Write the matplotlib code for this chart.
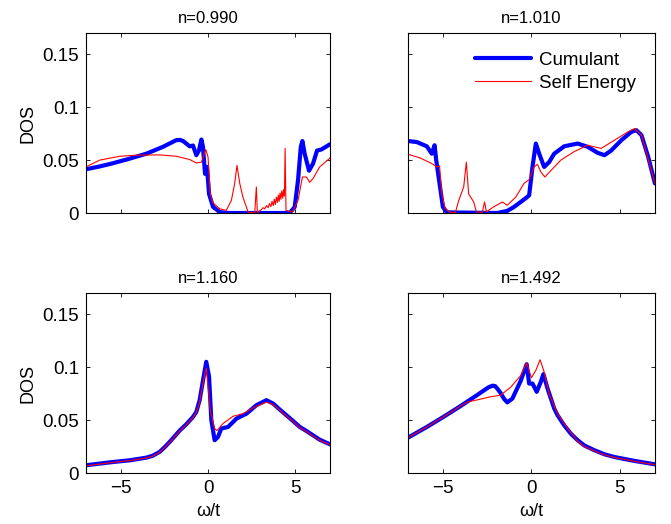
import matplotlib
matplotlib.use('Agg')
import matplotlib.pyplot as plt
import numpy as np

plt.rcParams['font.family'] = ['Liberation Sans', 'DejaVu Sans']
plt.rcParams['font.size'] = 13

titles = ['n=0.990', 'n=1.010', 'n=1.160', 'n=1.492']

# panel 1 (n=0.990)
w_cum1 = [-7.0, -6.2, -5.45, -4.5, -3.54, -2.58, -2.1, -1.82, -1.6, -1.43, -1.05, -0.86, -0.67, -0.52, -0.38, -0.29,
          -0.17, -0.06, 0.06, 0.29, 0.67, 1.05, 4.68, 4.97, 5.16, 5.32, 5.41, 5.54, 5.79,
          6.02, 6.25, 6.5, 7.0]
d_cum1 = [0.0413, 0.044, 0.047, 0.0513, 0.056, 0.0625, 0.0665, 0.0688, 0.069, 0.068, 0.063, 0.0637, 0.0546, 0.059, 0.0694, 0.0625,
          0.037, 0.0435, 0.018, 0.0057, 0.001, 0.0, 0.0, 0.0057, 0.031, 0.0625, 0.068, 0.056, 0.040,
          0.0467, 0.059, 0.060, 0.065]
w_se1 = [-7.0, -6.2, -5.05, -4.1, -2.77, -1.82, -1.05, -0.67, -0.38, -0.13, 0.0, 0.13, 0.29,
         0.67, 1.05, 1.34, 1.53, 1.66, 1.82, 2.0, 2.2, 2.3, 2.68, 2.77, 2.83,
         2.95, 3.05, 3.15, 3.25, 3.35, 3.45, 3.52, 3.6, 3.67, 3.74, 3.8, 3.86, 3.92, 3.98,
         4.03, 4.08, 4.13, 4.18, 4.23, 4.28, 4.33, 4.38, 4.42, 4.47, 4.85, 5.16, 5.41,
         5.64, 5.83, 6.02, 6.4, 7.0]
d_se1 = [0.0435, 0.050, 0.0536, 0.0546, 0.0549, 0.0536, 0.0505, 0.0473, 0.048, 0.060, 0.053, 0.018, 0.0095,
         0.004, 0.0025, 0.012, 0.028, 0.045, 0.028, 0.015, 0.0057, 0.0006, 0.0006, 0.0246, 0.0,
         0.002, 0.003, 0.005, 0.004, 0.007, 0.005, 0.009, 0.006, 0.011, 0.007, 0.013, 0.008, 0.015, 0.010,
         0.017, 0.011, 0.019, 0.013, 0.021, 0.014, 0.022, 0.016, 0.061, 0.0025, 0.001, 0.012, 0.034,
         0.034, 0.029, 0.0325, 0.0435, 0.052]

# panel 2 (n=1.010)
w_cum2 = [-7.0, -6.5, -5.93, -5.65, -5.49, -5.4, -5.21, -5.02, -4.79, -1.94, -1.37, -0.99,
          -0.61, -0.32, -0.13, 0.06, 0.25, 0.44, 0.72, 1.0, 1.29, 1.86, 2.62, 3.19, 3.76,
          4.14, 4.52, 5.1, 5.67, 5.95, 6.24, 6.62, 7.0]
d_cum2 = [0.068, 0.067, 0.063, 0.056, 0.064, 0.050, 0.028, 0.0057, 0.0006, 0.0, 0.002, 0.0057,
          0.0104, 0.014, 0.0167, 0.0435, 0.0656, 0.056, 0.0435, 0.048, 0.056, 0.063, 0.0656, 0.0625, 0.0568,
          0.0546, 0.059, 0.0688, 0.0767, 0.0782, 0.0735, 0.053, 0.028]
w_se2 = [-7.0, -6.31, -5.65, -5.36, -5.21, -5.08, -4.89, -4.6, -4.31, -4.12, -3.84, -3.69,
         -3.56, -3.27, -3.12, -2.79, -2.66, -2.55, -2.22, -1.65, -1.37, -0.89, -0.42, -0.13,
         0.15, 0.34, 0.53, 0.76, 1.1, 1.67, 2.43, 3.19, 3.95, 4.71, 5.48, 5.86, 6.24, 7.0]
d_se2 = [0.0555, 0.052, 0.0467, 0.0435, 0.0445, 0.018, 0.004, 0.0006, 0.0006, 0.012, 0.0246, 0.048,
         0.018, 0.0104, 0.001, 0.0006, 0.0104, 0.001, 0.005, 0.0104, 0.0073, 0.015, 0.028, 0.0315,
         0.0435, 0.046, 0.039, 0.034, 0.040, 0.050, 0.058, 0.064, 0.061, 0.0688, 0.0767, 0.0798, 0.0735, 0.028]

# panel 3 (n=1.160)
w_cum3 = [-7.0, -5.45, -4.49, -3.54, -3.16, -2.77, -2.49, -2.2, -1.91, -1.63, -1.24, -0.86, -0.67, -0.48, -0.25, -0.1, 0.06, 0.19,
          0.38, 0.57, 0.76, 1.15, 1.63, 2.2, 2.77, 3.35, 3.73, 4.11, 4.49, 4.87, 5.26, 5.64, 6.02, 6.4, 7.0]
d_cum3 = [0.0073, 0.0104, 0.012, 0.0145, 0.0164, 0.020, 0.0243, 0.0293, 0.0347, 0.040, 0.0461, 0.053, 0.0577, 0.0688, 0.091, 0.105, 0.091, 0.050,
          0.031, 0.034, 0.042, 0.0435, 0.0514, 0.056, 0.064, 0.0688, 0.0656, 0.060, 0.0546, 0.0492, 0.0435, 0.0397, 0.0356, 0.0315, 0.027]
w_se3 = [-7.0, -5.45, -4.49, -3.54, -3.16, -2.77, -2.49, -2.2, -1.91, -1.63, -1.24, -0.86, -0.67, -0.48, -0.25, -0.1, 0.13, 0.38,
         0.51, 0.86, 1.44, 2.0, 2.77, 3.35, 3.73, 4.11, 4.49, 4.87, 5.26, 5.64, 6.02, 6.4, 7.0]
d_se3 = [0.0068, 0.0100, 0.0117, 0.0142, 0.016, 0.0196, 0.024, 0.029, 0.0343, 0.0395, 0.0456, 0.0525, 0.0572, 0.067, 0.088, 0.099, 0.059, 0.042,
         0.040, 0.0467, 0.0536, 0.056, 0.063, 0.067, 0.0648, 0.0594, 0.054, 0.0487, 0.043, 0.0392, 0.035, 0.031, 0.0265]

# panel 4 (n=1.492)
w_cum4 = [-7.0, -5.93, -4.99, -4.04, -3.09, -2.43, -2.2, -2.05, -1.9, -1.75, -1.55, -1.37, -1.08, -0.61, -0.27,
          -0.13, 0.06, 0.3, 0.53, 0.68, 0.91, 1.29, 1.48, 1.86, 2.24, 2.62, 3.0, 3.57, 4.14, 4.71, 5.29, 5.86, 7.0]
d_cum4 = [0.0334, 0.0435, 0.053, 0.063, 0.0735, 0.081, 0.0825, 0.082, 0.079, 0.0756, 0.070, 0.0667, 0.0703, 0.087, 0.1028,
          0.0845, 0.0845, 0.0767, 0.086, 0.0934, 0.080, 0.061, 0.0546, 0.045, 0.037, 0.031, 0.026, 0.0215, 0.0177, 0.0151, 0.0132, 0.0114, 0.0082]
w_se4 = [-7.0, -5.93, -4.99, -4.04, -3.65, -3.09, -2.32, -1.75, -1.18, -0.61, -0.27, 0.0,
         0.25, 0.49, 0.72, 1.0, 1.48, 2.05, 2.62, 3.0, 3.57, 4.14, 4.71, 5.29, 5.86, 7.0]
d_se4 = [0.0334, 0.0435, 0.053, 0.063, 0.067, 0.069, 0.072, 0.0735, 0.081, 0.092, 0.104, 0.090,
         0.097, 0.107, 0.0956, 0.075, 0.056, 0.042, 0.030, 0.0252, 0.0208, 0.0172, 0.0146, 0.0128, 0.011, 0.0078]

cum = [(w_cum1, d_cum1), (w_cum2, d_cum2), (w_cum3, d_cum3), (w_cum4, d_cum4)]
se = [(w_se1, d_se1), (w_se2, d_se2), (w_se3, d_se3), (w_se4, d_se4)]

fig = plt.figure(figsize=(6.71, 5.24), dpi=100)
rects = [[0.128, 0.5935, 0.364, 0.3435], [0.608, 0.5935, 0.368, 0.3435],
         [0.128, 0.0973, 0.364, 0.3435], [0.608, 0.0973, 0.368, 0.3435]]

for i in range(4):
    ax = fig.add_axes(rects[i])
    ax.plot(cum[i][0], cum[i][1], color='b', lw=3.0, label='Cumulant',
            solid_joinstyle='round', solid_capstyle='round')
    ax.plot(se[i][0], se[i][1], color='r', lw=0.8, label='Self Energy')
    ax.set_xlim(-7, 7)
    ax.set_ylim(0, 0.17)
    ax.set_xticks([-5, 0, 5])
    ax.set_yticks([0, 0.05, 0.1, 0.15])
    ax.set_yticklabels(['0', '0.05', '0.1', '0.15'])
    ax.tick_params(direction='in', top=True, right=True, length=3, width=0.6, pad=5, labelsize=13.5)
    for s in ax.spines.values():
        s.set_linewidth(0.8)
    ax.set_title(titles[i], fontsize=12, pad=7)
    if i < 2:
        ax.set_xticklabels([])
    else:
        ax.set_xlabel('ω/t', labelpad=4)
    if i % 2 == 1:
        ax.set_yticklabels([])
    else:
        ax.set_ylabel('DOS', labelpad=4)
    if i == 1:
        ax.legend(loc='upper right', frameon=False, handlelength=3.0, handletextpad=0.4,
                  labelspacing=0.3, bbox_to_anchor=(0.99, 0.99), fontsize=13.5)

plt.savefig('out.png', dpi=100)
